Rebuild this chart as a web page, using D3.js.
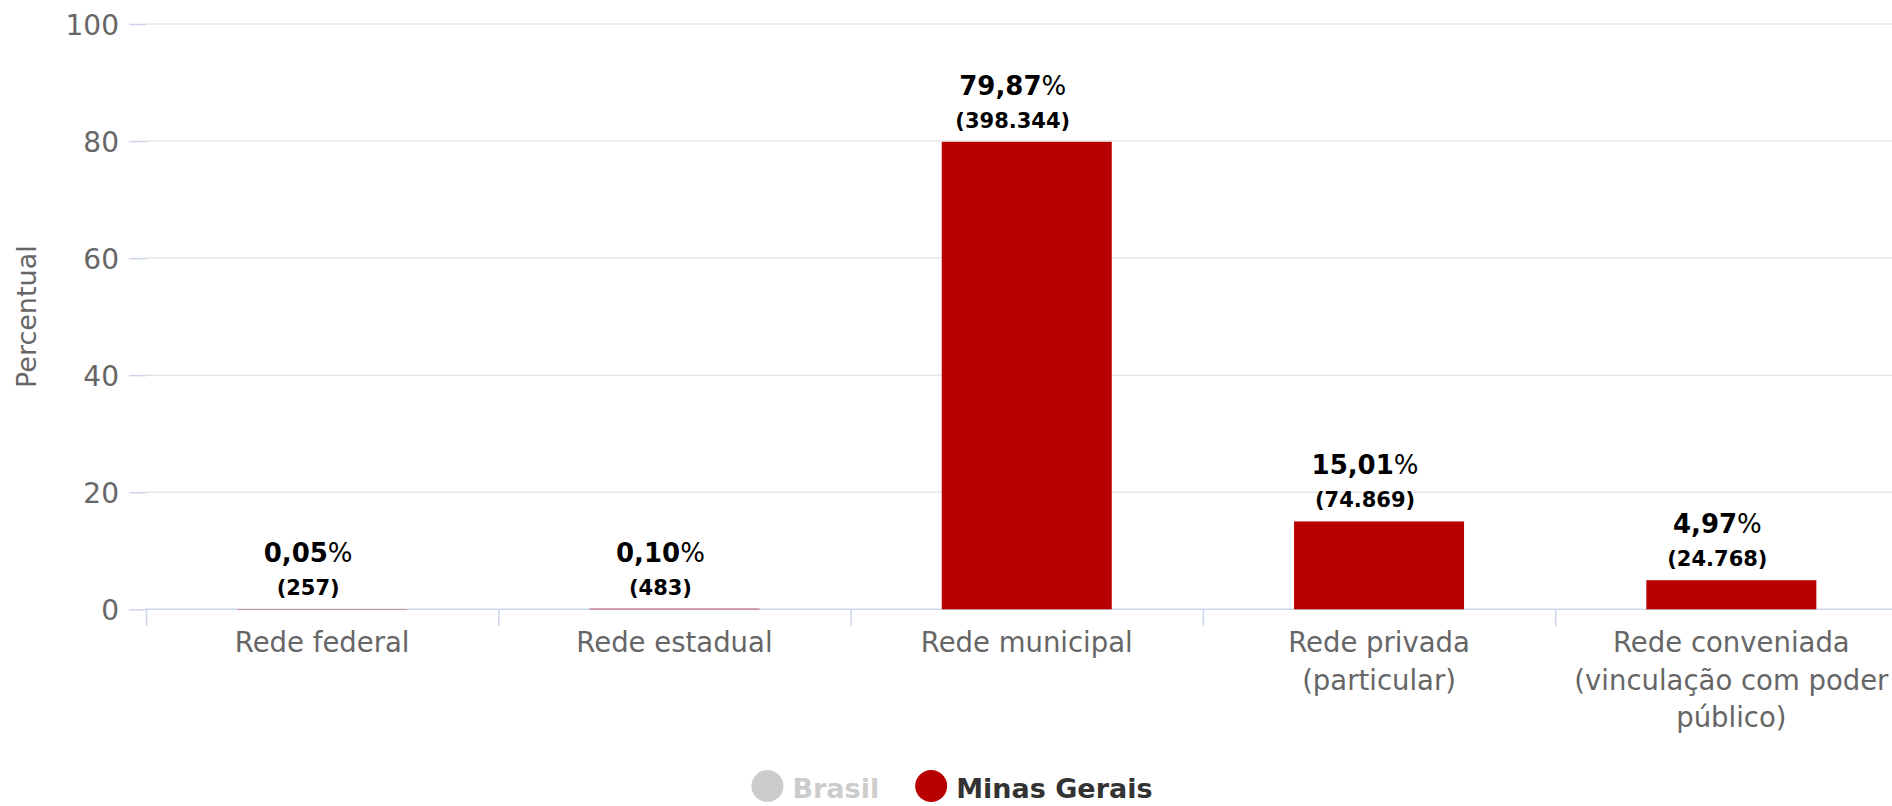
<!DOCTYPE html>
<html>
<head>
<meta charset="utf-8">
<script src="https://cdn.jsdelivr.net/npm/d3@7"></script>
<style>
  body { margin: 0; background: #fff; }
  svg { display: block; font-family: "DejaVu Sans", sans-serif; }
</style>
</head>
<body>
<div id="chart"></div>
<script>
// data
const categories = ['Rede federal', 'Rede estadual', 'Rede municipal', 'Rede privada (particular)', 'Rede conveniada (vinculação com poder público)'];
const percents = [0.05, 0.10, 79.87, 15.01, 4.97];
const percentLabels = ['0,05', '0,10', '79,87', '15,01', '4,97'];
const countLabels = ['(257)', '(483)', '(398.344)', '(74.869)', '(24.768)'];
const yTicks = [0, 20, 40, 60, 80, 100];
const legendItems = ['Brasil', 'Minas Gerais'];

const width = 1892, height = 806;
const margin = { top: 24, left: 146, bottom: 609.3 };
const bandW = 352.3;

const svg = d3.select('#chart').append('svg')
  .attr('width', width)
  .attr('height', height);

const x = d3.scaleBand()
  .domain(categories)
  .range([margin.left, margin.left + bandW * categories.length])
  .padding(0);

const y = d3.scaleLinear()
  .domain([0, 100])
  .range([margin.bottom, margin.top]);

// gridlines
svg.append('g')
  .selectAll('line').data(yTicks.filter(d => d > 0))
  .join('line')
  .attr('x1', margin.left).attr('x2', width)
  .attr('y1', d => y(d)).attr('y2', d => y(d))
  .attr('stroke', '#e6e6e6').attr('stroke-width', 1.5);

// y axis
const yAxis = svg.append('g')
  .attr('transform', `translate(${margin.left},0)`)
  .call(d3.axisLeft(y).tickValues(yTicks).tickSize(17).tickPadding(10));
yAxis.select('.domain').remove();
yAxis.selectAll('line').attr('stroke', '#ccd6eb').attr('stroke-width', 1.5);
yAxis.selectAll('text')
  .attr('fill', '#666').attr('font-size', 28)
  .attr('font-family', '"DejaVu Sans", sans-serif')
  .attr('dy', '0.36em');

// x axis line + boundary ticks
svg.append('line')
  .attr('x1', margin.left).attr('x2', width)
  .attr('y1', y(0)).attr('y2', y(0))
  .attr('stroke', '#ccd6eb').attr('stroke-width', 1.5);

const xb = d3.scaleLinear().domain([0, categories.length]).range(x.range());
const xTickAxis = svg.append('g')
  .attr('transform', `translate(0,${y(0)})`)
  .call(d3.axisBottom(xb).ticks(categories.length).tickSize(17).tickFormat(''));
xTickAxis.select('.domain').remove();
xTickAxis.selectAll('line').attr('stroke', '#ccd6eb').attr('stroke-width', 1.5);

// category labels
const xAxis = svg.append('g')
  .attr('transform', `translate(0,${y(0)})`)
  .call(d3.axisBottom(x).tickSize(0).tickPadding(0));
xAxis.select('.domain').remove();
xAxis.selectAll('text')
  .attr('fill', '#666').attr('font-size', 27.5)
  .attr('font-family', '"DejaVu Sans", sans-serif')
  .attr('dy', null).attr('y', 0)
  .call(wrap, 330);

function wrap(text, maxW) {
  text.each(function () {
    const t = d3.select(this);
    const words = t.text().split(/\s+/);
    t.text(null);
    let line = [];
    let lineNo = 0;
    let tspan = t.append('tspan').attr('x', 0).attr('y', 43);
    words.forEach(w => {
      line.push(w);
      tspan.text(line.join(' '));
      if (tspan.node().getComputedTextLength() > maxW && line.length > 1) {
        line.pop();
        tspan.text(line.join(' '));
        line = [w];
        lineNo++;
        tspan = t.append('tspan').attr('x', 0).attr('y', 43 + lineNo * 37.5).text(w);
      }
    });
  });
}

// bars
const barW = x.bandwidth() * 0.4826;
svg.append('g')
  .selectAll('rect').data(categories)
  .join('rect')
  .attr('x', d => x(d) + (x.bandwidth() - barW) / 2)
  .attr('y', (d, i) => y(percents[i]))
  .attr('width', barW)
  .attr('height', (d, i) => y(0) - y(percents[i]))
  .attr('fill', '#b90000');

// data labels
const labels = svg.append('g')
  .selectAll('g').data(categories)
  .join('g')
  .attr('transform', (d, i) => `translate(${x(d) + x.bandwidth() / 2 - 14},${y(percents[i])})`)
  .attr('text-anchor', 'middle')
  .attr('fill', '#000');

const pct = labels.append('text')
  .attr('y', -47)
  .attr('font-size', 26);
pct.append('tspan').attr('font-weight', 'bold').text((d, i) => percentLabels[i]);
pct.append('tspan').text('%');

labels.append('text')
  .attr('y', -14)
  .attr('font-size', 21)
  .attr('font-weight', 'bold')
  .text((d, i) => countLabels[i]);

// y axis title
svg.append('text')
  .attr('transform', `translate(36,${(y(0) + y(100)) / 2}) rotate(-90)`)
  .attr('text-anchor', 'middle')
  .attr('font-size', 27)
  .attr('fill', '#666')
  .text('Percentual');

// legend
const legendColors = ['#cccccc', '#b90000'];
const legendText = ['#cccccc', '#333333'];
const legend = svg.append('g');
let lx = 0;
legendItems.forEach((name, i) => {
  const g = legend.append('g').attr('transform', `translate(${lx},0)`);
  g.append('circle').attr('cx', 16).attr('cy', 786).attr('r', 16).attr('fill', legendColors[i]);
  const t = g.append('text')
    .attr('x', 41).attr('y', 798)
    .attr('font-size', 27).attr('font-weight', 'bold')
    .attr('fill', legendText[i])
    .text(name);
  lx += 41 + t.node().getComputedTextLength() + 36;
});
const legendW = lx - 36;
legend.attr('transform', `translate(${952 - legendW / 2},0)`);
</script>
</body>
</html>
